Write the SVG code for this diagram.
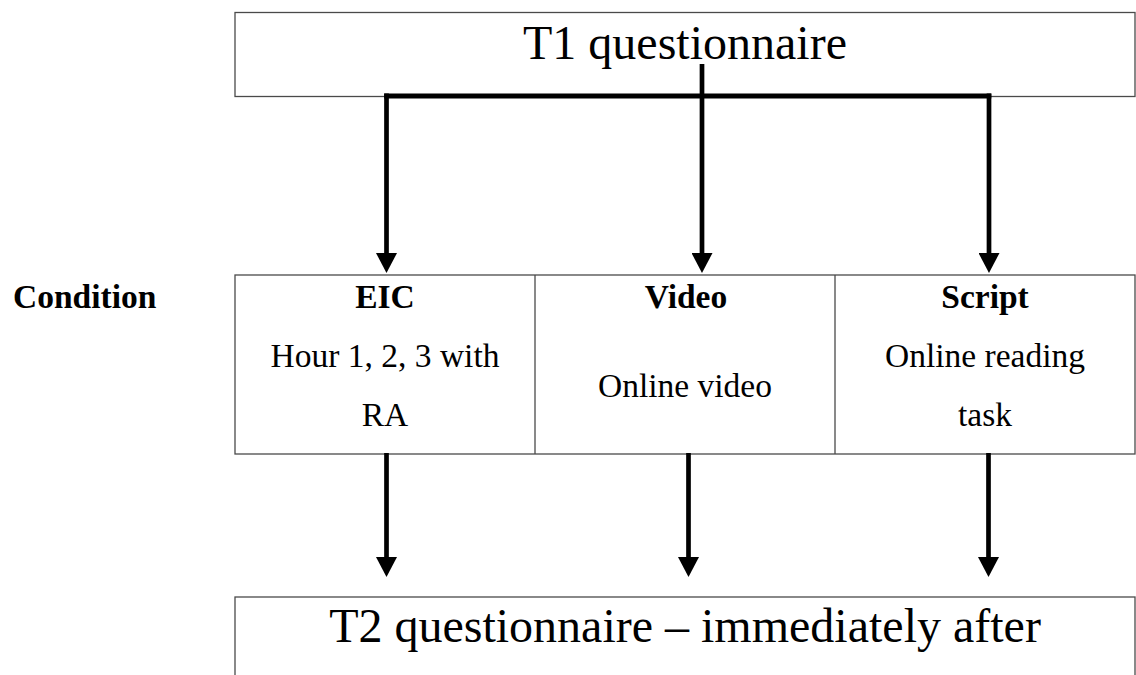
<svg xmlns="http://www.w3.org/2000/svg" width="1136" height="675" viewBox="0 0 1136 675">
  <style>
    .box { fill: #ffffff; stroke: #4a4a4a; stroke-width: 1.3; }
    .div { stroke: #4a4a4a; stroke-width: 1.3; fill: none; }
    .big { font-family: "Liberation Serif", "Times New Roman", serif; font-size: 48px; fill: #000; text-anchor: middle; }
    .txt { font-family: "Liberation Serif", "Times New Roman", serif; font-size: 33.5px; fill: #000; text-anchor: middle; }
    .hd { font-weight: bold; }
    .wire { stroke: #000; stroke-width: 4.7; fill: none; stroke-linecap: butt; stroke-linejoin: miter; }
  </style>
  <defs>
    <marker id="head" markerUnits="userSpaceOnUse" markerWidth="21" markerHeight="21" refX="0" refY="10.5" orient="auto" viewBox="0 0 21 21">
      <path d="M0,0 L20,10.5 L0,21 Z" fill="#000"/>
    </marker>
  </defs>
  <rect width="1136" height="675" fill="#ffffff"/>

  <!-- row label -->
  <text id="label-condition" class="txt hd" x="13" y="308" style="text-anchor:start">Condition</text>

  <!-- pre-test -->
  <g id="node-t1">
    <rect class="box" x="235" y="12.5" width="900" height="84"/>
    <text class="big" x="685" y="59">T1 questionnaire</text>
  </g>

  <!-- the three conditions -->
  <g id="node-conditions">
    <rect class="box" x="235" y="275" width="900" height="179"/>
    <line class="div" x1="535" y1="275" x2="535" y2="454"/>
    <line class="div" x1="835" y1="275" x2="835" y2="454"/>
  </g>
  <g id="node-eic">
    <text class="txt hd" x="385" y="308">EIC</text>
    <text class="txt" x="385" y="367">Hour 1, 2, 3 with</text>
    <text class="txt" x="385" y="426">RA</text>
  </g>
  <g id="node-video">
    <text class="txt hd" x="686" y="308">Video</text>
    <text class="txt" x="685" y="397">Online video</text>
  </g>
  <g id="node-script">
    <text class="txt hd" x="985" y="308">Script</text>
    <text class="txt" x="985" y="367">Online reading</text>
    <text class="txt" x="985" y="426">task</text>
  </g>

  <!-- post-test -->
  <g id="node-t2">
    <rect class="box" x="235" y="597" width="900" height="100"/>
    <text class="big" x="685" y="642">T2 questionnaire – immediately after</text>
  </g>

  <!-- connectors -->
  <g id="connectors">
    <path class="wire" d="M702,64 V96"/>
    <path class="wire" d="M384.2,96 H991.3" style="stroke-width:5"/>
    <path class="wire" d="M386.5,93.5 V253" marker-end="url(#head)"/>
    <path class="wire" d="M702,96 V253" marker-end="url(#head)"/>
    <path class="wire" d="M989,93.5 V253" marker-end="url(#head)"/>
    <path class="wire" d="M386.5,453 V557" marker-end="url(#head)"/>
    <path class="wire" d="M688.5,453 V557" marker-end="url(#head)"/>
    <path class="wire" d="M988.5,453 V557" marker-end="url(#head)"/>
  </g>
</svg>
